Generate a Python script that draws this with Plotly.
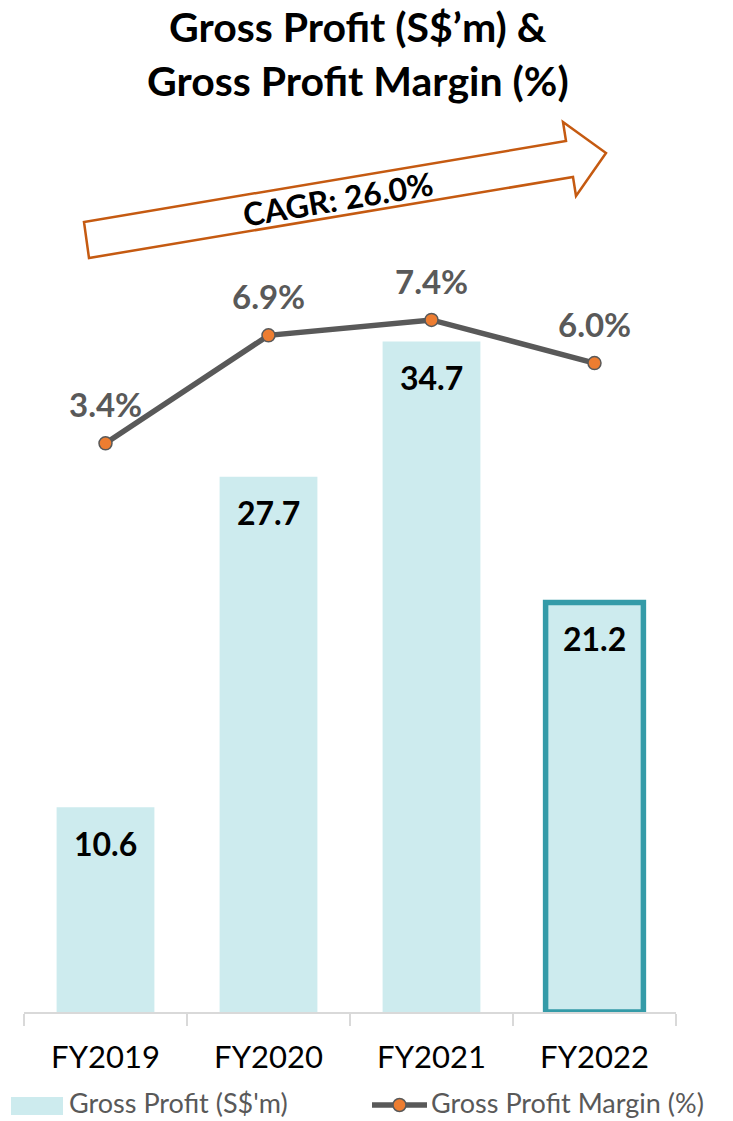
import plotly.graph_objects as go

# ---- data ----
categories = ["FY2019", "FY2020", "FY2021", "FY2022"]
gross_profit = [10.6, 27.7, 34.7, 21.2]
gp_margin = [3.4, 6.9, 7.4, 6.0]
gp_labels = ["10.6", "27.7", "34.7", "21.2"]
margin_labels = ["3.4%", "6.9%", "7.4%", "6.0%"]
title_lines = ["Gross Profit (S$’m) &", "Gross Profit Margin (%)"]
cagr_text = "CAGR: 26.0%"
legend_names = ["Gross Profit (S$'m)", "Gross Profit Margin (%)"]

# ---- layout geometry (pixels) ----
W, H = 733, 1121
L, R, T, B = 24, 57, 130, 109
PW, PH = W - L - R, H - T - B
PLOT_BOTTOM = H - B


def xp(px):
    return (px - L) / PW


def yp(py):
    return (PLOT_BOTTOM - py) / PH


FONT = "Lato"
BAR_FILL = "#CDEBEE"
TEAL = "#349BA8"
ORANGE_LINE = "#C55A11"
DARK = "#595959"
MARKER = "#ED7D31"

fig = go.Figure()

bar_line_w = [0, 0, 0, 5.5]
fig.add_trace(go.Bar(
    x=categories, y=gross_profit, name=legend_names[0],
    marker=dict(color=BAR_FILL, line=dict(color=[TEAL] * 4, width=bar_line_w)),
    showlegend=False, hoverinfo="skip",
))
fig.add_trace(go.Scatter(
    x=categories, y=gp_margin, name=legend_names[1], yaxis="y2",
    mode="lines+markers",
    line=dict(color=DARK, width=5.5),
    marker=dict(color=MARKER, size=13, line=dict(color=DARK, width=1.5)),
    showlegend=False, hoverinfo="skip",
))

annotations = []
# bar value labels
for c, v, t in zip(categories, gross_profit, gp_labels):
    annotations.append(dict(x=c, y=v, xref="x", yref="y", text=f"<b>{t}</b>",
                            showarrow=False, yshift=-36, yanchor="middle",
                            font=dict(family=FONT, size=32, color="black")))
# margin labels
for c, v, t in zip(categories, gp_margin, margin_labels):
    annotations.append(dict(x=c, y=v, xref="x", yref="y2", text=f"<b>{t}</b>",
                            showarrow=False, yshift=39, yanchor="middle",
                            font=dict(family=FONT, size=33, color=DARK)))
# title
for i, line in enumerate(title_lines):
    annotations.append(dict(x=xp(358), y=yp(26.5 + 54 * i), xref="paper", yref="paper",
                            text=f"<b>{line}</b>", showarrow=False,
                            xanchor="center", yanchor="middle",
                            font=dict(family=FONT, size=41, color="black")))
# CAGR text
annotations.append(dict(x=xp(338), y=yp(199), xref="paper", yref="paper",
                        text=f"<b>{cagr_text}</b>", showarrow=False, textangle=-9.5,
                        xanchor="center", yanchor="middle",
                        font=dict(family=FONT, size=32, color="black")))
# legend texts
annotations.append(dict(x=xp(67), y=yp(1102), xref="paper", yref="paper",
                        text=legend_names[0], showarrow=False, xanchor="left", yanchor="middle",
                        font=dict(family=FONT, size=27, color=DARK)))
annotations.append(dict(x=xp(429), y=yp(1102), xref="paper", yref="paper",
                        text=legend_names[1], showarrow=False, xanchor="left", yanchor="middle",
                        font=dict(family=FONT, size=27, color=DARK)))

# arrow polygon (pixels)
arrow_pts = [(89, 258), (84, 222), (566, 141), (563, 122), (606, 153),
             (576, 196), (573, 177)]
path = "M " + " L ".join(f"{xp(x):.5f},{yp(y):.5f}" for x, y in arrow_pts) + " Z"

shapes = [
    dict(type="path", path=path, xref="paper", yref="paper",
         line=dict(color=ORANGE_LINE, width=2.5), fillcolor="white", layer="below"),
    # legend swatch
    dict(type="rect", xref="paper", yref="paper", x0=xp(11), x1=xp(63), y0=yp(1115), y1=yp(1097),
         line=dict(width=0), fillcolor=BAR_FILL),
    # legend line
    dict(type="line", xref="paper", yref="paper", x0=xp(372), x1=xp(427), y0=yp(1105), y1=yp(1105),
         line=dict(color=DARK, width=5.5)),
    dict(type="circle", xref="paper", yref="paper", x0=xp(393), x1=xp(406), y0=yp(1111.5), y1=yp(1098.5),
         line=dict(color=DARK, width=1.5), fillcolor=MARKER),
]

fig.update_layout(
    width=W, height=H,
    margin=dict(l=L, r=R, t=T, b=B, pad=0),
    paper_bgcolor="white", plot_bgcolor="white",
    bargap=0.4,
    showlegend=False,
    xaxis=dict(range=[-0.5, 3.5], showline=True, linecolor="#D9D9D9", linewidth=1.5,
               ticks="outside", tickson="boundaries", ticklen=12, tickcolor="#D9D9D9",
               tickwidth=1.5, showgrid=False, zeroline=False, ticklabelstandoff=17,
               tickfont=dict(family=FONT, size=31, color="black")),
    yaxis=dict(range=[0, PH / 19.32], visible=False, showgrid=False, zeroline=False),
    yaxis2=dict(range=[-(PLOT_BOTTOM - 548.2) / 30.85, (548.2 - T) / 30.85],
                overlaying="y", side="right", visible=False, showgrid=False, zeroline=False),
    annotations=annotations,
    shapes=shapes,
)

fig.write_html("out.html")
